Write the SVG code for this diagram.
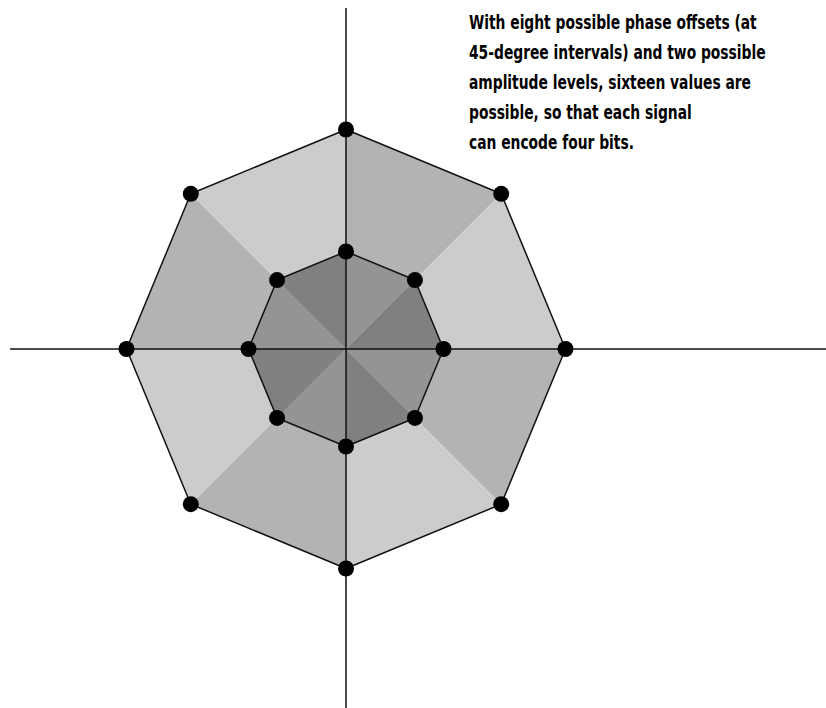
<svg xmlns="http://www.w3.org/2000/svg" width="826" height="708" viewBox="0 0 826 708">
<style>
.oL{fill:#cccccc}
.oD{fill:#b3b3b3}
.iL{fill:#949494}
.iD{fill:#808080}
.edge{fill:none;stroke:#111;stroke-width:1.5;stroke-linejoin:round}
.axis{stroke:#111;stroke-width:1.5}
.dot{fill:#000}
.txt{font-family:"DejaVu Sans Condensed","DejaVu Sans","Liberation Sans",sans-serif;font-size:19px;font-weight:bold;fill:#000}
</style>
<rect width="826" height="708" fill="#fff"/>
<g id="outer-ring">
<polygon class="oD" points="346,349 346,129.5 501.21,193.79"/>
<polygon class="oL" points="346,349 501.21,193.79 565.5,349"/>
<polygon class="oD" points="346,349 565.5,349 501.21,504.21"/>
<polygon class="oL" points="346,349 501.21,504.21 346,568.5"/>
<polygon class="oD" points="346,349 346,568.5 190.79,504.21"/>
<polygon class="oL" points="346,349 190.79,504.21 126.5,349"/>
<polygon class="oD" points="346,349 126.5,349 190.79,193.79"/>
<polygon class="oL" points="346,349 190.79,193.79 346,129.5"/>
<polygon class="edge" points="346,129.5 501.21,193.79 565.5,349 501.21,504.21 346,568.5 190.79,504.21 126.5,349 190.79,193.79"/>
</g>
<g id="inner-ring">
<polygon class="iL" points="346,349 346,251.5 414.94,280.06"/>
<polygon class="iD" points="346,349 414.94,280.06 443.5,349"/>
<polygon class="iL" points="346,349 443.5,349 414.94,417.94"/>
<polygon class="iD" points="346,349 414.94,417.94 346,446.5"/>
<polygon class="iL" points="346,349 346,446.5 277.06,417.94"/>
<polygon class="iD" points="346,349 277.06,417.94 248.5,349"/>
<polygon class="iL" points="346,349 248.5,349 277.06,280.06"/>
<polygon class="iD" points="346,349 277.06,280.06 346,251.5"/>
<polygon class="edge" points="346,251.5 414.94,280.06 443.5,349 414.94,417.94 346,446.5 277.06,417.94 248.5,349 277.06,280.06"/>
</g>
<g id="connectors">
<line class="axis" x1="10" y1="349" x2="826" y2="349"/>
<line class="axis" x1="346" y1="8" x2="346" y2="708"/>
</g>
<g id="p-outer-0"><circle class="dot" cx="346" cy="129.5" r="8"/></g>
<g id="p-outer-45"><circle class="dot" cx="501.21" cy="193.79" r="8"/></g>
<g id="p-outer-90"><circle class="dot" cx="565.5" cy="349" r="8"/></g>
<g id="p-outer-135"><circle class="dot" cx="501.21" cy="504.21" r="8"/></g>
<g id="p-outer-180"><circle class="dot" cx="346" cy="568.5" r="8"/></g>
<g id="p-outer-225"><circle class="dot" cx="190.79" cy="504.21" r="8"/></g>
<g id="p-outer-270"><circle class="dot" cx="126.5" cy="349" r="8"/></g>
<g id="p-outer-315"><circle class="dot" cx="190.79" cy="193.79" r="8"/></g>
<g id="p-inner-0"><circle class="dot" cx="346" cy="251.5" r="8"/></g>
<g id="p-inner-45"><circle class="dot" cx="414.94" cy="280.06" r="8"/></g>
<g id="p-inner-90"><circle class="dot" cx="443.5" cy="349" r="8"/></g>
<g id="p-inner-135"><circle class="dot" cx="414.94" cy="417.94" r="8"/></g>
<g id="p-inner-180"><circle class="dot" cx="346" cy="446.5" r="8"/></g>
<g id="p-inner-225"><circle class="dot" cx="277.06" cy="417.94" r="8"/></g>
<g id="p-inner-270"><circle class="dot" cx="248.5" cy="349" r="8"/></g>
<g id="p-inner-315"><circle class="dot" cx="277.06" cy="280.06" r="8"/></g>
<g id="caption" class="txt" transform="translate(469,0) scale(0.81,1)">
<text x="0" y="29">With eight possible phase offsets (at</text>
<text x="0" y="59">45-degree intervals) and two possible</text>
<text x="0" y="89">amplitude levels, sixteen values are</text>
<text x="0" y="119">possible, so that each signal</text>
<text x="0" y="149">can encode four bits.</text>
</g>
</svg>
